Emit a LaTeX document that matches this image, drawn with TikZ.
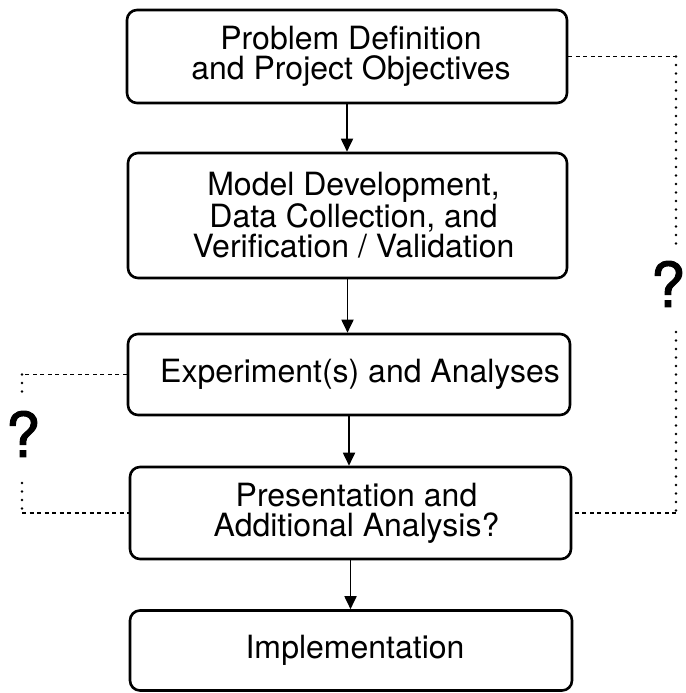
\documentclass[tikz,border=0pt]{standalone}
\usepackage{fontspec}
\setmainfont{TeX Gyre Heros}
\newfontfamily\qfont[FakeBold=1.6]{TeX Gyre Heros}
\usetikzlibrary{arrows.meta}
\begin{document}
\begin{tikzpicture}[x=1pt,y=-1pt,
  stagebox/.style={draw, line width=2.6pt, rounded corners=10pt, inner sep=0pt},
  stagetext/.style={font=\fontsize{32}{30}\selectfont, align=center, inner sep=0pt},
  flow/.style={line width=1.8pt, -{Triangle[width=12pt,length=13pt]}},
  hdash/.style={line width=1.8pt, dash pattern=on 4pt off 3.5pt},
  vdot/.style={line width=2.6pt, line cap=round, dash pattern=on 0pt off 8.5pt},
  qmark/.style={font=\qfont\fontsize{62}{62}\selectfont, inner sep=0pt}]
\useasboundingbox (0,0) rectangle (685,693);

% process stages
\node[stagebox, minimum width=440pt, minimum height=93pt,
  label={[stagetext, xshift=4pt]center:Problem Definition\\and Project Objectives}]
  (b1) at (347,56.5) {};
\node[stagebox, minimum width=439pt, minimum height=125pt,
  label={[stagetext, xshift=6pt]center:Model Development,\\Data Collection, and\\Verification / Validation}]
  (b2) at (347.5,215.5) {};
\node[stagebox, minimum width=442pt, minimum height=81pt,
  label={[stagetext, xshift=11pt]center:Experiment(s) and Analyses}]
  (b3) at (349,374.5) {};
\node[stagebox, minimum width=441pt, minimum height=92pt,
  label={[stagetext, xshift=6pt]center:Presentation and\\Additional Analysis?}]
  (b4) at (350.5,513) {};
\node[stagebox, minimum width=442pt, minimum height=80pt,
  label={[stagetext, xshift=4pt]center:Implementation}]
  (b5) at (351,650.5) {};

% main flow
\draw[flow] (b1.south) -- (b1.south |- b2.north);
\draw[flow] (b2.south) -- (b2.south |- b3.north);
\draw[flow] (b3.south) -- (b3.south |- b4.north);
\draw[flow] (b4.south) -- (b4.south |- b5.north);

% feedback loop on the right
\node[qmark] (qr) at (668,284) {?};
\coordinate (r1) at (676,56.5);
\coordinate (r2) at (676,245);
\coordinate (r3) at (676,332);
\coordinate (r4) at (676,513);
\draw[hdash] (b1.east) -- (r1);
\draw[vdot] (r1) -- (r2);
\draw[vdot] (r3) -- (r4);
\draw[hdash] (r4) -- (b4.east);

% feedback loop on the left
\node[qmark] (ql) at (23,434) {?};
\coordinate (l1) at (22,374.5);
\coordinate (l2) at (22,396);
\coordinate (l3) at (22,483);
\coordinate (l4) at (22,513);
\draw[hdash] (b3.west) -- (l1);
\draw[vdot] (l1) -- (l2);
\draw[vdot] (l3) -- (l4);
\draw[hdash] (l4) -- (b4.west);
\end{tikzpicture}
\end{document}
